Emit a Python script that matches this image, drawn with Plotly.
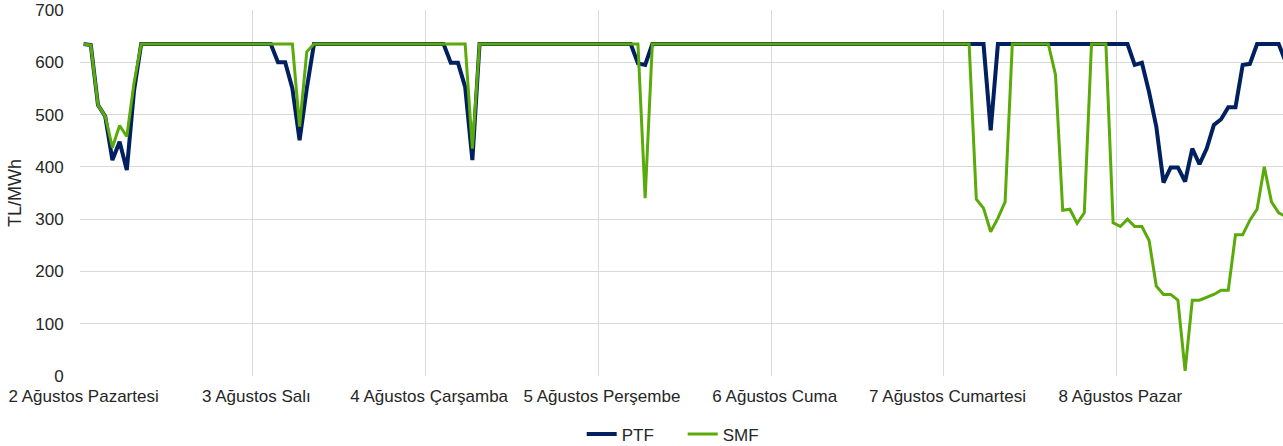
import plotly.graph_objects as go

day_labels = ["2 Ağustos Pazartesi", "3 Ağustos Salı", "4 Ağustos Çarşamba",
              "5 Ağustos Perşembe", "6 Ağustos Cuma", "7 Ağustos Cumartesi",
              "8 Ağustos Pazar"]

# Hourly PTF values (TL/MWh), one list per day
ptf_d1 = [635, 633, 518, 497, 413, 448, 394, 545, 635, 635, 635, 635,
          635, 635, 635, 635, 635, 635, 635, 635, 635, 635, 635, 635]
ptf_d2 = [635, 635, 635, 600, 600, 550, 451, 550, 635, 635, 635, 635,
          635, 635, 635, 635, 635, 635, 635, 635, 635, 635, 635, 635]
ptf_d3 = [635, 635, 635, 599, 599, 553, 413, 635, 635, 635, 635, 635,
          635, 635, 635, 635, 635, 635, 635, 635, 635, 635, 635, 635]
ptf_d4 = [635, 635, 635, 635, 635, 598, 595, 635, 635, 635, 635, 635,
          635, 635, 635, 635, 635, 635, 635, 635, 635, 635, 635, 635]
ptf_d5 = [635, 635, 635, 635, 635, 635, 635, 635, 635, 635, 635, 635,
          635, 635, 635, 635, 635, 635, 635, 635, 635, 635, 635, 635]
ptf_d6 = [635, 635, 635, 635, 635, 635, 470, 635, 635, 635, 635, 635,
          635, 635, 635, 635, 635, 635, 635, 635, 635, 635, 635, 635]
ptf_d7 = [635, 635, 595, 599, 543, 477, 370, 399, 399, 372, 435, 405,
          435, 480, 491, 514, 514, 595, 597, 635, 635, 635, 635, 600]

# Hourly SMF values (TL/MWh), one list per day
smf_d1 = [635, 633, 518, 497, 437, 479, 458, 560, 635, 635, 635, 635,
          635, 635, 635, 635, 635, 635, 635, 635, 635, 635, 635, 635]
smf_d2 = [635, 635, 635, 635, 635, 635, 477, 620, 635, 635, 635, 635,
          635, 635, 635, 635, 635, 635, 635, 635, 635, 635, 635, 635]
smf_d3 = [635, 635, 635, 635, 635, 635, 435, 635, 635, 635, 635, 635,
          635, 635, 635, 635, 635, 635, 635, 635, 635, 635, 635, 635]
smf_d4 = [635, 635, 635, 635, 635, 635, 340, 635, 635, 635, 635, 635,
          635, 635, 635, 635, 635, 635, 635, 635, 635, 635, 635, 635]
smf_d5 = [635, 635, 635, 635, 635, 635, 635, 635, 635, 635, 635, 635,
          635, 635, 635, 635, 635, 635, 635, 635, 635, 635, 635, 635]
smf_d6 = [635, 635, 635, 635, 338, 321, 276, 302, 333, 635, 635, 635,
          635, 635, 635, 576, 317, 319, 292, 312, 635, 635, 635, 293]
smf_d7 = [286, 300, 286, 286, 259, 172, 156, 156, 145, 10, 145, 145,
          150, 156, 164, 164, 270, 270, 298, 319, 400, 333, 312, 305]

ptf = ptf_d1 + ptf_d2 + ptf_d3 + ptf_d4 + ptf_d5 + ptf_d6 + ptf_d7
smf = smf_d1 + smf_d2 + smf_d3 + smf_d4 + smf_d5 + smf_d6 + smf_d7
hours = list(range(len(ptf)))

day_starts = [24 * i for i in range(len(day_labels))]
day_bounds = [24 * i - 0.5 for i in range(len(day_labels) + 1)]
noon_lines = [24 * i + 11.5 for i in range(len(day_labels))]

FONT = "Liberation Sans, Arial, sans-serif"
TXT = "#262626"
XRANGE = [-0.5, 166.6]

fig = go.Figure()
fig.add_trace(go.Scatter(x=hours, y=ptf, mode="lines", name="PTF",
                         line=dict(color="#002060", width=4)))
fig.add_trace(go.Scatter(x=hours, y=smf, mode="lines", name="SMF",
                         line=dict(color="#5AAA0A", width=3)))

fig.update_layout(
    width=1283, height=446,
    margin=dict(l=80, r=0, t=10, b=70, autoexpand=False),
    paper_bgcolor="white", plot_bgcolor="white",
    font=dict(family=FONT, size=17, color=TXT),
    showlegend=True,
    legend=dict(orientation="h", x=0.501, xanchor="center", y=-0.16,
                yanchor="middle", font=dict(size=17, color=TXT),
                bgcolor="rgba(0,0,0,0)", itemwidth=30, entrywidth=56),
    xaxis=dict(
        range=XRANGE, automargin=False,
        tickmode="array", tickvals=day_starts, ticktext=day_labels,
        showgrid=False, zeroline=False, showline=False,
        ticks="outside", ticklen=5, tickcolor="rgba(0,0,0,0)",
        tickfont=dict(size=17, color=TXT),
        minor=dict(tickmode="array", tickvals=day_bounds, showgrid=True,
                   gridcolor="#d9d9d9", gridwidth=1, ticks=""),
    ),
    xaxis2=dict(
        overlaying="x", matches="x", range=XRANGE, automargin=False,
        tickmode="array", tickvals=noon_lines, showticklabels=False,
        showgrid=True, gridcolor="#efefef", gridwidth=1, zeroline=False,
        showline=False,
    ),
    yaxis=dict(
        range=[0, 700], tickmode="linear", tick0=0, dtick=100,
        showgrid=True, gridcolor="#d9d9d9", gridwidth=1, zeroline=False,
        showline=False, ticks="outside", ticklen=12,
        tickcolor="rgba(0,0,0,0)", tickfont=dict(size=17, color=TXT),
        title=dict(text="TL/MWh", font=dict(size=18, color=TXT), standoff=8),
        automargin=False,
    ),
)

fig.write_html("out.html", config={"displayModeBar": False},
               post_script="document.body.style.margin='0';")
